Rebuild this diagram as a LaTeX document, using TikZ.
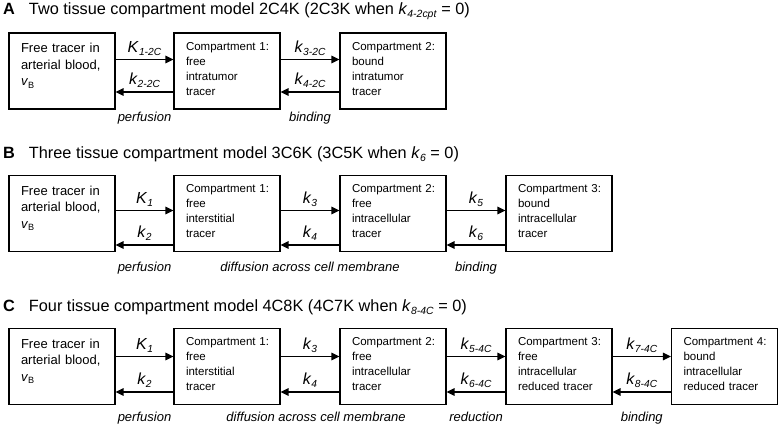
\documentclass[tikz,border=0pt]{standalone}
\usepackage{fontspec}
\setmainfont{Liberation Sans}
\usetikzlibrary{arrows.meta}

% rate constant with an italic subscript
\newcommand{\rate}[2]{\textit{#1}\raisebox{-0.18em}{\scalebox{0.64}{\textit{#2}}}}
\newcommand{\vB}{\textit{v}\raisebox{-0.2em}{\scalebox{0.7}{B}}}

\begin{document}
\begin{tikzpicture}[x=1pt, y=1pt, >={Triangle[length=8pt, width=7.5pt]},
  box/.style={draw, line width=1.2pt, text width=82pt, inner xsep=12pt,
    minimum height=76pt, align=left, text depth=50pt,
    font=\fontsize{11.5}{15}\selectfont},
  bloodbox/.style={box, text depth=46pt, font=\fontsize{13}{16.5}\selectfont},
  flux/.style={->, line width=1.6pt},
  ratelbl/.style={above=3.5pt, inner sep=0pt, font=\fontsize{16}{16}\selectfont},
  proclbl/.style={below=#1, inner sep=0pt, font=\fontsize{13}{13}\selectfont\itshape},
  proclbl/.default=19pt,
  paneltitle/.style={anchor=base west, inner sep=0pt, font=\fontsize{16.3}{16.3}\selectfont}]

\useasboundingbox (0,0) rectangle (778,425);

% box columns
\def\xa{62}
\def\xb{227}
\def\xc{393}
\def\xd{559}
\def\xe{724.5}

% -------------------------------------------------------
% 1. Panel titles
% -------------------------------------------------------
\foreach \lab/\y/\txt in {A/410/{Two tissue compartment model 2C4K (2C3K when \rate{k}{4-2cpt} = 0)},
                          B/266.5/{Three tissue compartment model 3C6K (3C5K when \rate{k}{6} = 0)},
                          C/113.5/{Four tissue compartment model 4C8K (4C7K when \rate{k}{8-4C} = 0)}} {
  \node[paneltitle] (t\lab) at (3,\y) {\textbf{\lab}\hspace{14pt}\txt};
}

% -------------------------------------------------------
% 2. Panel A: two tissue compartments
% -------------------------------------------------------
\node[bloodbox] (a1) at (\xa,354) {Free tracer in\\arterial blood,\\\vB};
\node[box] (a2) at (\xb,354) {Compartment~1:\\free\\intratumor\\tracer};
\node[box] (a3) at (\xc,354) {Compartment~2:\\bound\\intratumor\\tracer};

\draw[flux] ([yshift=11.5pt]a1.east) -- node[ratelbl] (ka1) {\rate{K}{1-2C}} ([yshift=11.5pt]a2.west);
\draw[flux] ([yshift=-21pt]a2.west) -- node[ratelbl] (ka2) {\rate{k}{2-2C}}
  node[proclbl] (pa1) {perfusion} ([yshift=-21pt]a1.east);
\draw[flux] ([yshift=11.5pt]a2.east) -- node[ratelbl] (ka3) {\rate{k}{3-2C}} ([yshift=11.5pt]a3.west);
\draw[flux] ([yshift=-21pt]a3.west) -- node[ratelbl] (ka4) {\rate{k}{4-2C}}
  node[proclbl] (pa2) {binding} ([yshift=-21pt]a2.east);

% -------------------------------------------------------
% 3. Panel B: three tissue compartments
% -------------------------------------------------------
\node[bloodbox] (b1) at (\xa,211.5) {Free tracer in\\arterial blood,\\\vB};
\node[box] (b2) at (\xb,211.5) {Compartment~1:\\free\\interstitial\\tracer};
\node[box] (b3) at (\xc,211.5) {Compartment~2:\\free\\intracellular\\tracer};
\node[box] (b4) at (\xd,211.5) {Compartment~3:\\bound\\intracellular\\tracer};

\draw[flux] ([yshift=3pt]b1.east) -- node[ratelbl] (kb1) {\rate{K}{1}} ([yshift=3pt]b2.west);
\draw[flux] ([yshift=-31.5pt]b2.west) -- node[ratelbl] (kb2) {\rate{k}{2}}
  node[proclbl=16pt] (pb1) {perfusion} ([yshift=-31.5pt]b1.east);
\draw[flux] ([yshift=3pt]b2.east) -- node[ratelbl] (kb3) {\rate{k}{3}} ([yshift=3pt]b3.west);
\draw[flux] ([yshift=-31.5pt]b3.west) -- node[ratelbl] (kb4) {\rate{k}{4}}
  node[proclbl=16pt] (pb2) {diffusion across cell membrane} ([yshift=-31.5pt]b2.east);
\draw[flux] ([yshift=3pt]b3.east) -- node[ratelbl] (kb5) {\rate{k}{5}} ([yshift=3pt]b4.west);
\draw[flux] ([yshift=-31.5pt]b4.west) -- node[ratelbl] (kb6) {\rate{k}{6}}
  node[proclbl=16pt] (pb3) {binding} ([yshift=-31.5pt]b3.east);

% -------------------------------------------------------
% 4. Panel C: four tissue compartments
% -------------------------------------------------------
\node[bloodbox] (c1) at (\xa,58.5) {Free tracer in\\arterial blood,\\\vB};
\node[box] (c2) at (\xb,58.5) {Compartment~1:\\free\\interstitial\\tracer};
\node[box] (c3) at (\xc,58.5) {Compartment~2:\\free\\intracellular\\tracer};
\node[box] (c4) at (\xd,58.5) {Compartment~3:\\free\\intracellular\\reduced tracer};
\node[box] (c5) at (\xe,58.5) {Compartment~4:\\bound\\intracellular\\reduced tracer};

\draw[flux] ([yshift=10pt]c1.east) -- node[ratelbl] (kc1) {\rate{K}{1}} ([yshift=10pt]c2.west);
\draw[flux] ([yshift=-25.5pt]c2.west) -- node[ratelbl] (kc2) {\rate{k}{2}}
  node[proclbl] (pc1) {perfusion} ([yshift=-25.5pt]c1.east);
\draw[flux] ([yshift=10pt]c2.east) -- node[ratelbl] (kc3) {\rate{k}{3}} ([yshift=10pt]c3.west);
\draw[flux] ([yshift=-25.5pt]c3.west) -- node[ratelbl] (kc4) {\rate{k}{4}}
  node[proclbl, xshift=6pt] (pc2) {diffusion across cell membrane} ([yshift=-25.5pt]c2.east);
\draw[flux] ([yshift=10pt]c3.east) -- node[ratelbl] (kc5) {\rate{k}{5-4C}} ([yshift=10pt]c4.west);
\draw[flux] ([yshift=-25.5pt]c4.west) -- node[ratelbl] (kc6) {\rate{k}{6-4C}}
  node[proclbl] (pc3) {reduction} ([yshift=-25.5pt]c3.east);
\draw[flux] ([yshift=10pt]c4.east) -- node[ratelbl] (kc7) {\rate{k}{7-4C}} ([yshift=10pt]c5.west);
\draw[flux] ([yshift=-25.5pt]c5.west) -- node[ratelbl] (kc8) {\rate{k}{8-4C}}
  node[proclbl] (pc4) {binding} ([yshift=-25.5pt]c4.east);

\end{tikzpicture}
\end{document}
